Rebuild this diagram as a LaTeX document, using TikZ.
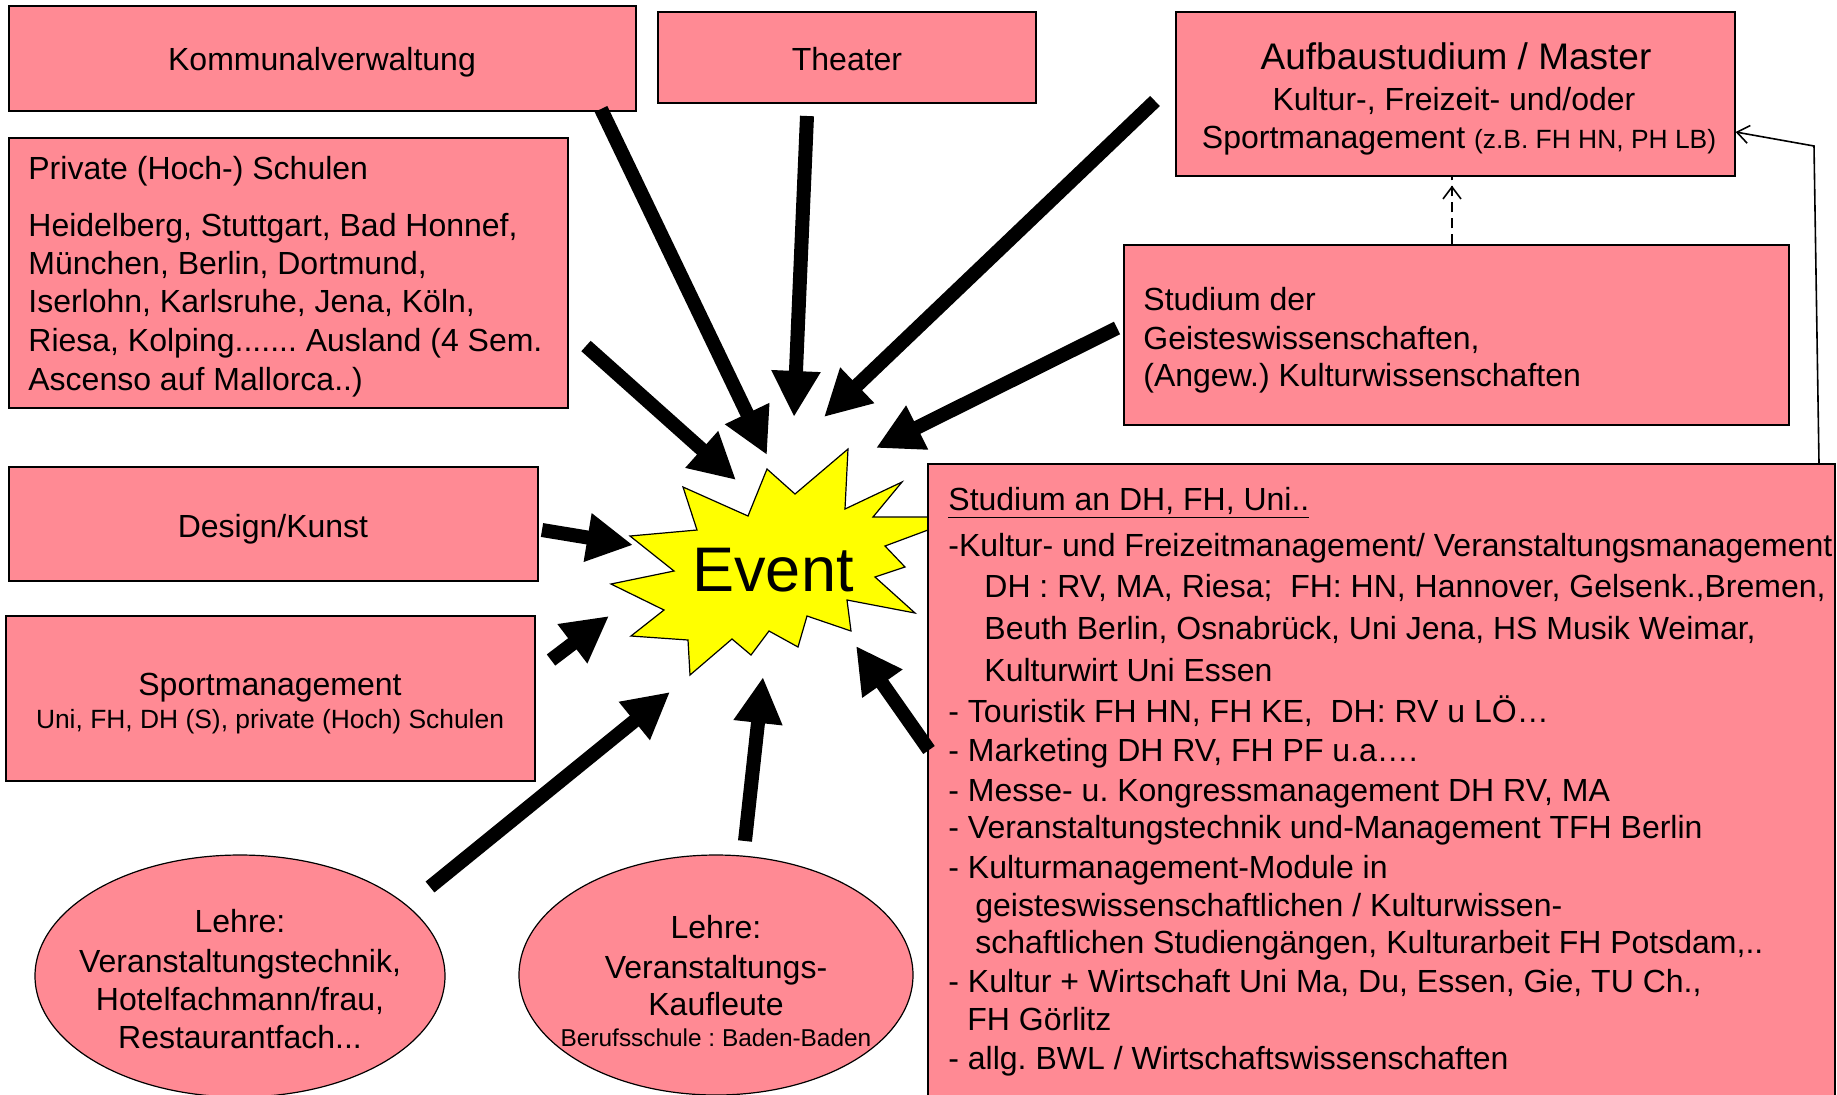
\documentclass[tikz,border=0pt]{standalone}
\usepackage{fontspec}
\setmainfont{Liberation Sans}
\usetikzlibrary{arrows.meta,shapes.geometric,fit}
\definecolor{boxpink}{HTML}{FF8A94}
\definecolor{staryellow}{HTML}{FFFF00}
\newcommand{\fsN}{\fontsize{16}{19}\selectfont}
\newcommand{\fsS}{\fontsize{13.2}{15}\selectfont}
\newcommand{\fsB}{\fontsize{12.2}{14}\selectfont}
\newcommand{\fsA}{\fontsize{18.5}{22}\selectfont}
\newcommand{\fsE}{\fontsize{31.5}{36}\selectfont}
\frenchspacing
\begin{document}
\frenchspacing
\begin{tikzpicture}[x=0.5pt,y=-0.5pt,
 box/.style={draw=black, line width=0.6pt, fill=boxpink, inner sep=0pt},
 oval/.style={ellipse, draw=black, line width=0.6pt, fill=boxpink, inner sep=0pt},
 txt/.style={inner sep=0pt, font=\fsN},
 small/.style={inner sep=0pt, font=\fsS},
 bigarrow/.style={line width=7pt, -{Triangle[length=23pt,width=23pt]}},
 thinarrow/.style={line width=0.8pt, -{Straight Barb[length=6pt,width=9pt]}},
]
\useasboundingbox (0,0) rectangle (1837,1094);
\clip (0,0) rectangle (1837,1094);
\fill[white] (0,0) rectangle (1837,1094);

% boxes
\node[box, fit={(9,6) (636,111)}] (komm) {};
\node[box, fit={(658,12) (1036,103)}] (theater) {};
\node[box, fit={(1176,12) (1735,176)}] (aufbau) {};
\node[box, fit={(9,138) (568,408)}] (privat) {};
\node[box, fit={(1124,245) (1789,425)}] (geist) {};
\node[box, fit={(9,467) (538,581)}] (design) {};
\node[box, fit={(6,616) (535,781)}] (sport) {};
\node[oval, minimum width=205pt, minimum height=121pt] (lehre1) at (240,976) {};
\node[oval, minimum width=197pt, minimum height=120pt] (lehre2) at (716,975) {};

% star
\draw[fill=staryellow, line width=0.6pt] (848,449) -- (845,509) -- (902,482) -- (873,517)
 -- (963,517) -- (928,530) -- (885,546) -- (905,567) -- (875,577) -- (915,613)
 -- (847,600) -- (851,631) -- (807,616) -- (798,647) -- (769,631) -- (751,655)
 -- (732,639) -- (690,675) -- (688,640) -- (631,636) -- (664,610) -- (611,584)
 -- (674,571) -- (630,536) -- (697,530) -- (683,487) -- (748,516) -- (767,469)
 -- (795,494) -- cycle;
\node[inner sep=0pt, font=\fsE, anchor=base] (event) at (773,591) {Event};

\node[box, fit={(928,464) (1835,1110)}] (studium) {};

% texts
\node[txt, anchor=base] (tkomm) at (322,70) {Kommunalverwaltung};
\node[txt, anchor=base] (ttheater) at (847,70) {Theater};
\node[inner sep=0pt, font=\fsA, anchor=base] (tauf1) at (1456,69) {Aufbaustudium / Master};
\node[txt, anchor=base] (tauf2) at (1454,110) {Kultur-, Freizeit- und/oder};
\node[txt, anchor=base] (tauf3) at (1459,148) {Sportmanagement {\fsS(z.B. FH HN, PH LB)}};

\node[txt, anchor=base west] (tp0) at (28,179) {Private (Hoch-) Schulen};
\node[txt, anchor=base west] (tp1) at (28,236.5) {Heidelberg, Stuttgart, Bad Honnef,};
\node[txt, anchor=base west] (tp2) at (28,274) {München, Berlin, Dortmund,};
\node[txt, anchor=base west] (tp3) at (28,312.6) {Iserlohn, Karlsruhe, Jena, Köln,};
\node[txt, anchor=base west] (tp4) at (28,351.3) {Riesa, Kolping....... Ausland (4 Sem.};
\node[txt, anchor=base west] (tp5) at (28,390) {Ascenso auf Mallorca..)};

\node[txt, anchor=base west] (tg1) at (1143,310) {Studium der};
\node[txt, anchor=base west] (tg2) at (1143,349) {Geisteswissenschaften,};
\node[txt, anchor=base west] (tg3) at (1143,386) {(Angew.) Kulturwissenschaften};

\node[txt, anchor=base] (tdesign) at (273,537.5) {Design/Kunst};
\node[txt, anchor=base] (tsport1) at (270,695.5) {Sportmanagement};
\node[small, anchor=base] (tsport2) at (270,728) {Uni, FH, DH (S), private (Hoch) Schulen};

\node[txt, anchor=base] (tl11) at (240,932) {Lehre:};
\node[txt, anchor=base] (tl12) at (240,972) {Veranstaltungstechnik,};
\node[txt, anchor=base] (tl13) at (240,1010) {Hotelfachmann/frau,};
\node[txt, anchor=base] (tl14) at (240,1048) {Restaurantfach...};

\node[txt, anchor=base] (tl21) at (716,938) {Lehre:};
\node[txt, anchor=base] (tl22) at (716,978) {Veranstaltungs-};
\node[txt, anchor=base] (tl23) at (716,1015.5) {Kaufleute};
\node[inner sep=0pt, font=\fsB, anchor=base] (tl24) at (716,1046.6) {Berufsschule : Baden-Baden};

\node[txt, anchor=base west] (ts01) at (948,510.6) {\underline{Studium an DH, FH, Uni..}};
\node[txt, anchor=base west] (ts02) at (948,556.3) {-Kultur- und Freizeitmanagement/ Veranstaltungsmanagement};
\node[txt, anchor=base west] (ts03) at (984,597.3) {DH : RV, MA, Riesa;\ \ FH: HN, Hannover, Gelsenk.,Bremen,};
\node[txt, anchor=base west] (ts04) at (984,639.5) {Beuth Berlin, Osnabrück, Uni Jena, HS Musik Weimar,};
\node[txt, anchor=base west] (ts05) at (984,681.7) {Kulturwirt Uni Essen};
\node[txt, anchor=base west] (ts06) at (948,722.7) {- Touristik FH HN, FH KE,\ \ DH: RV u LÖ…};
\node[txt, anchor=base west] (ts07) at (948,761.3) {- Marketing DH RV, FH PF u.a….};
\node[txt, anchor=base west] (ts08) at (948,801.2) {- Messe- u. Kongressmanagement DH RV, MA};
\node[txt, anchor=base west] (ts09) at (948,838.7) {- Veranstaltungstechnik und-Management TFH Berlin};
\node[txt, anchor=base west] (ts10) at (948,878.5) {- Kulturmanagement-Module in};
\node[txt, anchor=base west] (ts11) at (975,916) {geisteswissenschaftlichen / Kulturwissen-};
\node[txt, anchor=base west] (ts12) at (975,953.5) {schaftlichen Studiengängen, Kulturarbeit FH Potsdam,..};
\node[txt, anchor=base west] (ts13) at (948,992.1) {- Kultur + Wirtschaft Uni Ma, Du, Essen, Gie, TU Ch.,};
\node[txt, anchor=base west] (ts14) at (967,1030.8) {FH Görlitz};
\node[txt, anchor=base west] (ts15) at (948,1069.5) {- allg. BWL / Wirtschaftswissenschaften};

% arrow end points
\coordinate (a1s) at (601,109);  \coordinate (a1e) at (767,455);
\coordinate (a2s) at (807,116);  \coordinate (a2e) at (794,417);
\coordinate (a3s) at (1155,101); \coordinate (a3e) at (824,417);
\coordinate (a4s) at (586,346);  \coordinate (a4e) at (736,480);
\coordinate (a5s) at (1117,328); \coordinate (a5e) at (876,448);
\coordinate (a6s) at (542,530);  \coordinate (a6e) at (633,545);
\coordinate (a7s) at (551,660);  \coordinate (a7e) at (609,616);
\coordinate (a8s) at (430,887);  \coordinate (a8e) at (670,692);
\coordinate (a9s) at (745,841);  \coordinate (a9e) at (763,677);
\coordinate (a10s) at (929,750); \coordinate (a10e) at (856,646);

\foreach \i in {1,...,10} {\draw[bigarrow] (a\i s) -- (a\i e);}

% thin connectors
\coordinate (bend) at (1814,146);
\draw[thinarrow] (studium.north -| 1819,0) -- (bend) -- (aufbau.east |- 0,132);
\draw[thinarrow, dashed, dash pattern=on 5pt off 3pt] (geist.north -| 1452,0) -- (aufbau.south -| 1452,0) ++(0,9);
\end{tikzpicture}
\end{document}
